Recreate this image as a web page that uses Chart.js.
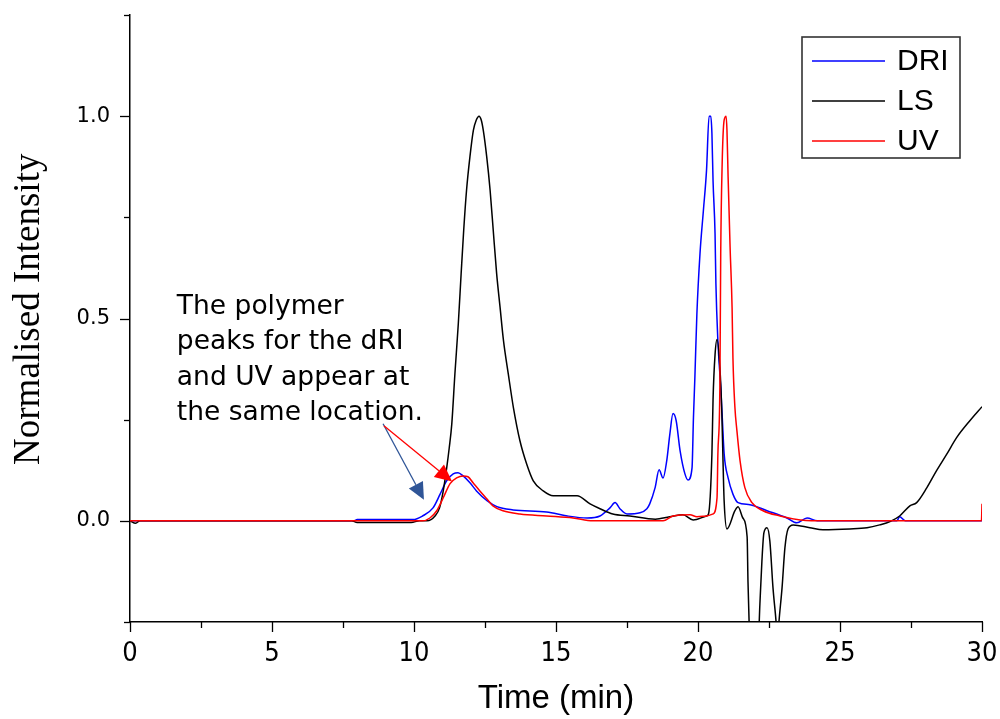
<!DOCTYPE html>
<html>
<head>
<meta charset="utf-8">
<script src="https://cdn.jsdelivr.net/npm/chart.js@4.4.1/dist/chart.umd.min.js"></script>
<style>
  html, body { margin: 0; padding: 0; background: #fff; }
  #wrap { width: 1000px; height: 719px; position: relative; }
</style>
</head>
<body>
<div id="wrap"><canvas id="c" width="1000" height="719"></canvas></div>
<script>
// ---- Data ----
const seriesLabels = ['DRI', 'LS', 'UV'];

const driTime = [0, 7.9, 8.0, 9.97, 10.3, 10.67, 10.92, 11.15, 11.38, 11.55, 11.73, 11.97, 12.2, 12.57, 12.92, 13.49, 14.67, 15.4, 16.1, 16.55, 16.9, 17.08, 17.25, 17.5, 17.96, 18.2, 18.3, 18.49, 18.63, 18.77, 18.9, 19.01, 19.12, 19.23, 19.37, 19.54, 19.65, 19.79, 19.84, 19.89, 19.96, 20.07, 20.19, 20.3, 20.39, 20.45, 20.49, 20.53, 20.6, 20.63, 20.7, 20.8, 20.86, 20.92, 21.06, 21.23, 21.41, 21.83, 22.43, 23.13, 23.48, 23.84, 24.2, 27.0, 27.1, 27.3, 30];
const driValue = [0, 0, 0.003, 0.003, 0.012, 0.032, 0.066, 0.099, 0.116, 0.119, 0.111, 0.094, 0.074, 0.05, 0.035, 0.027, 0.022, 0.012, 0.007, 0.012, 0.032, 0.045, 0.03, 0.017, 0.02, 0.03, 0.042, 0.082, 0.126, 0.106, 0.149, 0.215, 0.265, 0.248, 0.173, 0.116, 0.101, 0.131, 0.255, 0.354, 0.51, 0.66, 0.767, 0.866, 1.0, 1.0, 0.958, 0.84, 0.71, 0.587, 0.445, 0.33, 0.248, 0.166, 0.106, 0.066, 0.045, 0.04, 0.025, 0.007, -0.005, 0.007, 0.0, 0.0, 0.01, 0.0, 0.0];

const lsTime = [0, 0.2, 0.35, 5, 7.8, 8.0, 9.9, 10.2, 10.46, 10.74, 10.9, 11.03, 11.15, 11.24, 11.33, 11.44, 11.56, 11.66, 11.75, 11.85, 11.97, 12.09, 12.19, 12.29, 12.37, 12.44, 12.56, 12.68, 12.79, 12.91, 13.03, 13.15, 13.32, 13.5, 13.73, 13.97, 14.2, 14.55, 14.9, 15.74, 16.2, 16.55, 17.0, 17.6, 18.5, 19.0, 19.47, 19.83, 20.3, 20.37, 20.49, 20.53, 20.6, 20.67, 20.77, 20.84, 20.88, 20.92, 21.02, 21.3, 21.41, 21.58, 21.73, 21.76, 21.8, 21.95, 22.05, 22.18, 22.25, 22.32, 22.43, 22.53, 22.64, 22.75, 22.8, 22.85, 22.96, 23.06, 23.17, 23.35, 23.94, 24.4, 25.35, 25.95, 26.4, 26.76, 27.1, 27.46, 27.7, 28.06, 28.4, 28.77, 29.1, 29.58, 30];
const lsValue = [0, -0.006, 0, 0, 0, -0.004, -0.004, 0, 0, 0.012, 0.032, 0.074, 0.13, 0.18, 0.239, 0.363, 0.487, 0.611, 0.718, 0.817, 0.9, 0.965, 0.99, 1.0, 0.99, 0.965, 0.9, 0.817, 0.718, 0.611, 0.528, 0.446, 0.363, 0.28, 0.198, 0.14, 0.099, 0.074, 0.062, 0.062, 0.042, 0.03, 0.017, 0.012, 0.004, 0.01, 0.015, 0.002, 0.012, 0.017, 0.165, 0.3, 0.41, 0.448, 0.38, 0.265, 0.15, 0.05, -0.02, 0.025, 0.035, 0.007, -0.04, -0.15, -0.25, -0.42, -0.42, -0.205, -0.1, -0.03, -0.017, -0.05, -0.165, -0.25, -0.3, -0.25, -0.165, -0.067, -0.02, -0.01, -0.017, -0.022, -0.02, -0.017, -0.01, -0.002, 0.012, 0.037, 0.045, 0.082, 0.124, 0.166, 0.205, 0.248, 0.282];

const uvTime = [0, 10.3, 10.56, 10.8, 11.03, 11.27, 11.5, 11.73, 11.9, 12.08, 12.32, 12.57, 12.78, 13.13, 13.73, 14.67, 15.6, 16.3, 18.77, 19.12, 19.72, 19.96, 20.3, 20.53, 20.67, 20.7, 20.77, 20.8, 20.85, 20.92, 20.99, 21.02, 21.06, 21.13, 21.2, 21.23, 21.3, 21.37, 21.48, 21.65, 21.9, 22.29, 22.89, 23.6, 24.0, 29.98, 30];
const uvValue = [0, 0, 0.007, 0.025, 0.057, 0.092, 0.106, 0.111, 0.109, 0.094, 0.074, 0.054, 0.037, 0.025, 0.017, 0.012, 0.007, 0, 0, 0.012, 0.015, 0.01, 0.012, 0.017, 0.057, 0.165, 0.33, 0.66, 0.88, 0.99, 1.0, 0.965, 0.85, 0.676, 0.527, 0.403, 0.28, 0.223, 0.149, 0.082, 0.045, 0.025, 0.012, 0.002, 0, 0, 0.042];

const xTickLabels = ['0', '5', '10', '15', '20', '25', '30'];
const yTickLabels = ['0.0', '0.5', '1.0'];

const noteLines = ['The polymer', 'peaks for the dRI', 'and UV appear at', 'the same location.'];
const noteAnchor = [1.65, 0.512];          // data coords of first baseline
const arrowBlue = [[8.91, 0.24], [10.35, 0.052]];
const arrowRed = [[8.94, 0.235], [11.34, 0.097]];

// ---- Build ----
function pts(t, v) { return t.map((x, i) => ({ x: x, y: v[i] })); }
function isMult(v, step) { return Math.abs(v / step - Math.round(v / step)) < 1e-6; }

const colors = { DRI: '#0000ff', LS: '#000000', UV: '#ff0000' };

const annotPlugin = {
  id: 'annot',
  afterDraw(chart) {
    const { ctx, scales: { x, y }, chartArea } = chart;
    ctx.save();
    // axis ticks (major longer than minor)
    ctx.strokeStyle = '#000'; ctx.lineWidth = 1.3;
    x.ticks.forEach(t => {
      const px = Math.round(x.getPixelForValue(t.value)) + 0.5;
      const len = isMult(t.value, 5) ? 10 : 6;
      ctx.beginPath(); ctx.moveTo(px, chartArea.bottom); ctx.lineTo(px, chartArea.bottom + len); ctx.stroke();
    });
    y.ticks.forEach(t => {
      const py = Math.round(y.getPixelForValue(t.value)) + 0.5;
      const len = isMult(t.value, 0.5) ? 10 : 6;
      ctx.beginPath(); ctx.moveTo(chartArea.left, py); ctx.lineTo(chartArea.left - len, py); ctx.stroke();
    });

    // note text
    ctx.fillStyle = '#000';
    ctx.font = '26.5px "DejaVu Sans", Verdana, sans-serif';
    ctx.textBaseline = 'alphabetic';
    ctx.textAlign = 'left';
    const nx = x.getPixelForValue(noteAnchor[0]);
    const ny = y.getPixelForValue(noteAnchor[1]);
    noteLines.forEach((s, i) => ctx.fillText(s, nx, ny + i * 35.5));

    // arrows
    function arrow(a, color) {
      const x0 = x.getPixelForValue(a[0][0]), y0 = y.getPixelForValue(a[0][1]);
      const x1 = x.getPixelForValue(a[1][0]), y1 = y.getPixelForValue(a[1][1]);
      const ang = Math.atan2(y1 - y0, x1 - x0);
      const hl = 17, hw = 8;
      const bx = x1 - hl * Math.cos(ang), by = y1 - hl * Math.sin(ang);
      ctx.strokeStyle = color; ctx.fillStyle = color; ctx.lineWidth = 1.3;
      ctx.beginPath(); ctx.moveTo(x0, y0); ctx.lineTo(bx, by); ctx.stroke();
      ctx.beginPath();
      ctx.moveTo(x1, y1);
      ctx.lineTo(bx + hw * Math.sin(ang), by - hw * Math.cos(ang));
      ctx.lineTo(bx - hw * Math.sin(ang), by + hw * Math.cos(ang));
      ctx.closePath(); ctx.fill();
    }
    arrow(arrowBlue, '#2f5597');
    arrow(arrowRed, '#ff0000');

    // legend
    const bR = chartArea.right - 22, bT = chartArea.top + 22;
    const bW = 158, bH = 121;
    ctx.strokeStyle = '#333'; ctx.lineWidth = 1.6;
    ctx.strokeRect(bR - bW, bT, bW, bH);
    ctx.font = '30px "Liberation Sans", Arial, sans-serif';
    ctx.textBaseline = 'middle';
    seriesLabels.forEach((lab, i) => {
      const yy = bT + 24 + i * 40;
      ctx.strokeStyle = colors[lab]; ctx.lineWidth = 1.5;
      ctx.beginPath(); ctx.moveTo(bR - bW + 10, yy); ctx.lineTo(bR - bW + 83, yy); ctx.stroke();
      ctx.fillStyle = '#000';
      ctx.fillText(lab, bR - bW + 95, yy + 1);
    });
    ctx.restore();
  }
};

new Chart(document.getElementById('c'), {
  type: 'line',
  data: {
    datasets: [
      { label: 'UV', data: pts(uvTime, uvValue), borderColor: colors.UV, order: 0 },
      { label: 'LS', data: pts(lsTime, lsValue), borderColor: colors.LS, order: 1 },
      { label: 'DRI', data: pts(driTime, driValue), borderColor: colors.DRI, order: 2 }
    ]
  },
  options: {
    responsive: false,
    animation: false,
    devicePixelRatio: 1,
    layout: { padding: { top: 15, right: 18, left: 0, bottom: 0 } },
    elements: {
      point: { radius: 0 },
      line: { borderWidth: 1.5, cubicInterpolationMode: 'monotone', fill: false }
    },
    plugins: { legend: { display: false }, tooltip: { enabled: false } },
    scales: {
      x: {
        type: 'linear', min: 0, max: 30,
        afterFit(s) { s.height = 97; s.paddingLeft = 0; s.paddingRight = 0; },
        border: { display: true, color: '#000', width: 1.5 },
        grid: { display: true, drawOnChartArea: false, drawTicks: true, tickLength: 9, tickColor: 'rgba(0,0,0,0)' },
        ticks: {
          stepSize: 2.5, autoSkip: false, maxRotation: 0, padding: 7,
          color: '#000',
          font: { family: "'Liberation Sans Narrow', 'DejaVu Sans Condensed', sans-serif", size: 27 },
          callback(v) { return isMult(v, 5) ? xTickLabels[Math.round(v / 5)] : ''; }
        },
        title: {
          display: true, text: 'Time (min)', color: '#000',
          font: { family: "'Liberation Sans', Arial, sans-serif", size: 33 },
          padding: { top: 0, bottom: 0 }
        }
      },
      y: {
        type: 'linear', min: -0.25, max: 1.25,
        afterFit(s) { s.width = 130; s.paddingTop = 0; s.paddingBottom = 0; },
        border: { display: true, color: '#000', width: 1.5 },
        grid: { display: true, drawOnChartArea: false, drawTicks: true, tickLength: 9, tickColor: 'rgba(0,0,0,0)' },
        ticks: {
          stepSize: 0.25, autoSkip: false, padding: 11,
          color: '#000',
          font: { family: "'DejaVu Sans', Verdana, sans-serif", size: 21 },
          callback(v) { return (v >= 0 && isMult(v, 0.5)) ? yTickLabels[Math.round(v * 2)] : ''; }
        },
        title: {
          display: true, text: '  Normalised Intensity', color: '#000',
          font: { family: "'Liberation Serif', 'Times New Roman', serif", size: 37 },
          padding: { top: 7, bottom: 0 }
        }
      }
    }
  },
  plugins: [annotPlugin]
});
</script>
</body>
</html>
